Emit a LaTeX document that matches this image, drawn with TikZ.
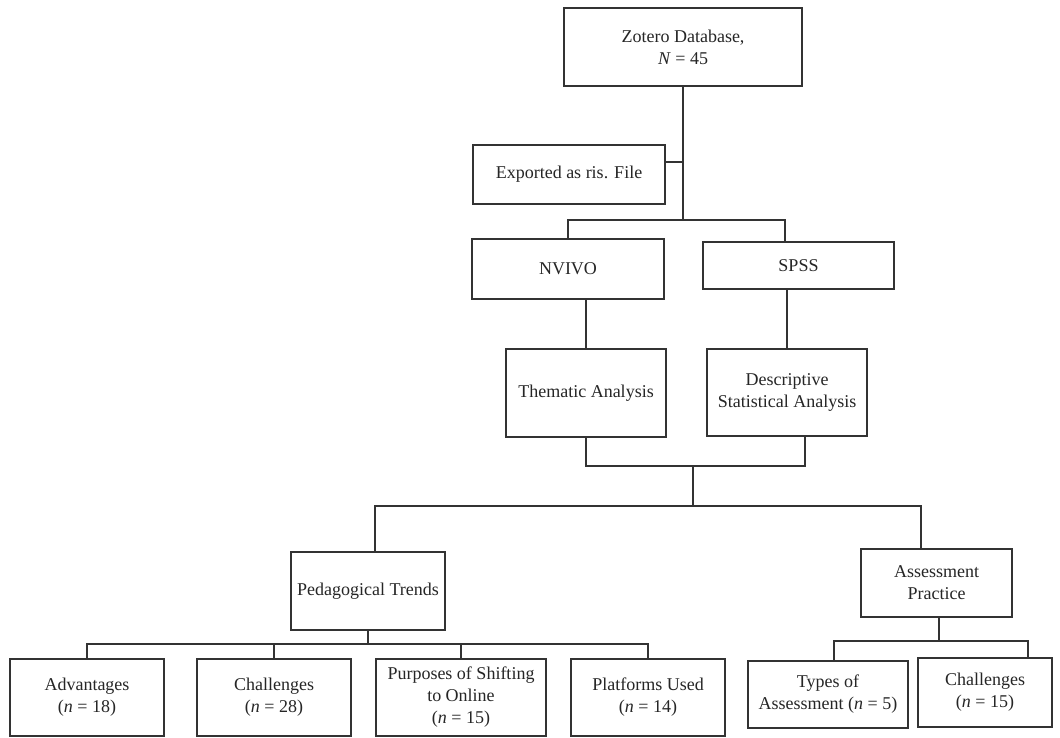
\documentclass[tikz,border=0pt]{standalone}
\usepackage{fontspec}
\setmainfont{Liberation Serif}
\begin{document}
\begin{tikzpicture}[x=1pt,y=-1pt,
  box/.style={draw=black!80, line width=1.1pt, inner sep=0pt, align=center,
    text=black!85, font=\fontsize{18}{22}\selectfont},
  link/.style={draw=black!80, line width=1.1pt}]
\fill[white] (0,0) rectangle (1060,737);
\useasboundingbox (0,0) rectangle (1060,737);
% boxes
\node[box, minimum width=238pt, minimum height=78pt] (zot) at (683,47) {Zotero Database,\\\textit{N} = 45};
\node[box, minimum width=192pt, minimum height=59pt] (exp) at (569,174.5) {Exported as ris. File};
\node[box, minimum width=192pt, minimum height=60pt] (nvivo) at (568,269) {NVIVO};
\node[box, minimum width=191pt, minimum height=47pt] (spss) at (798.5,265.5) {SPSS};
\node[box, minimum width=160pt, minimum height=88pt] (them) at (586,393) {Thematic Analysis};
\node[box, minimum width=160pt, minimum height=87pt] (desc) at (787,392.5) {Descriptive\\Statistical Analysis};
\node[box, minimum width=154pt, minimum height=78pt] (ped) at (368,591) {Pedagogical Trends};
\node[box, minimum width=151pt, minimum height=68pt] (assess) at (936.5,583) {Assessment\\Practice};
\node[box, minimum width=154pt, minimum height=77pt] (adv) at (87,697.5) {Advantages\\(\textit{n} = 18)};
\node[box, minimum width=154pt, minimum height=77pt] (chal) at (274,697.5) {Challenges\\(\textit{n} = 28)};
\node[box, minimum width=170pt, minimum height=77pt] (purp) at (461,697.5) {Purposes of Shifting\\to Online\\(\textit{n} = 15)};
\node[box, minimum width=154pt, minimum height=77pt] (plat) at (648,697.5) {Platforms Used\\(\textit{n} = 14)};
\node[box, minimum width=160pt, minimum height=67pt] (types) at (828,694.5) {Types of\\Assessment (\textit{n} = 5)};
\node[box, minimum width=134pt, minimum height=69pt] (chaltwo) at (985,692.5) {Challenges\\(\textit{n} = 15)};
% junctions
\coordinate (s1) at (683,220);
\coordinate (m1) at (693,466);
\coordinate (m2) at (693,506);
\coordinate (p1) at (368,644);
\coordinate (a1) at (939,641);
% connectors
\draw[link] (zot.south) -- (s1);
\draw[link] ([yshift=12.5pt]exp.east) -- ([yshift=12.5pt]exp.east -| s1);
\draw[link] (nvivo.north) |- (s1) -| ([xshift=-13.5pt]spss.north);
\draw[link] (them.north) -- (them.north |- nvivo.south);
\draw[link] (desc.north) -- (desc.north |- spss.south);
\draw[link] (them.south) |- (m1);
\draw[link] ([xshift=18pt]desc.south) |- (m1);
\draw[link] (m1) -- (m2);
\draw[link] ([xshift=7pt]ped.north) |- (m2) -| ([xshift=-15.5pt]assess.north);
\draw[link] (ped.south) -- (p1);
\draw[link] (adv.north) |- (p1) -| (plat.north);
\draw[link] (chal.north) -- (chal.north |- p1);
\draw[link] (purp.north) -- (purp.north |- p1);
\draw[link] ([xshift=2.5pt]assess.south) -- (a1);
\draw[link] ([xshift=6pt]types.north) |- (a1) -| ([xshift=43pt]chaltwo.north);
\end{tikzpicture}
\end{document}
